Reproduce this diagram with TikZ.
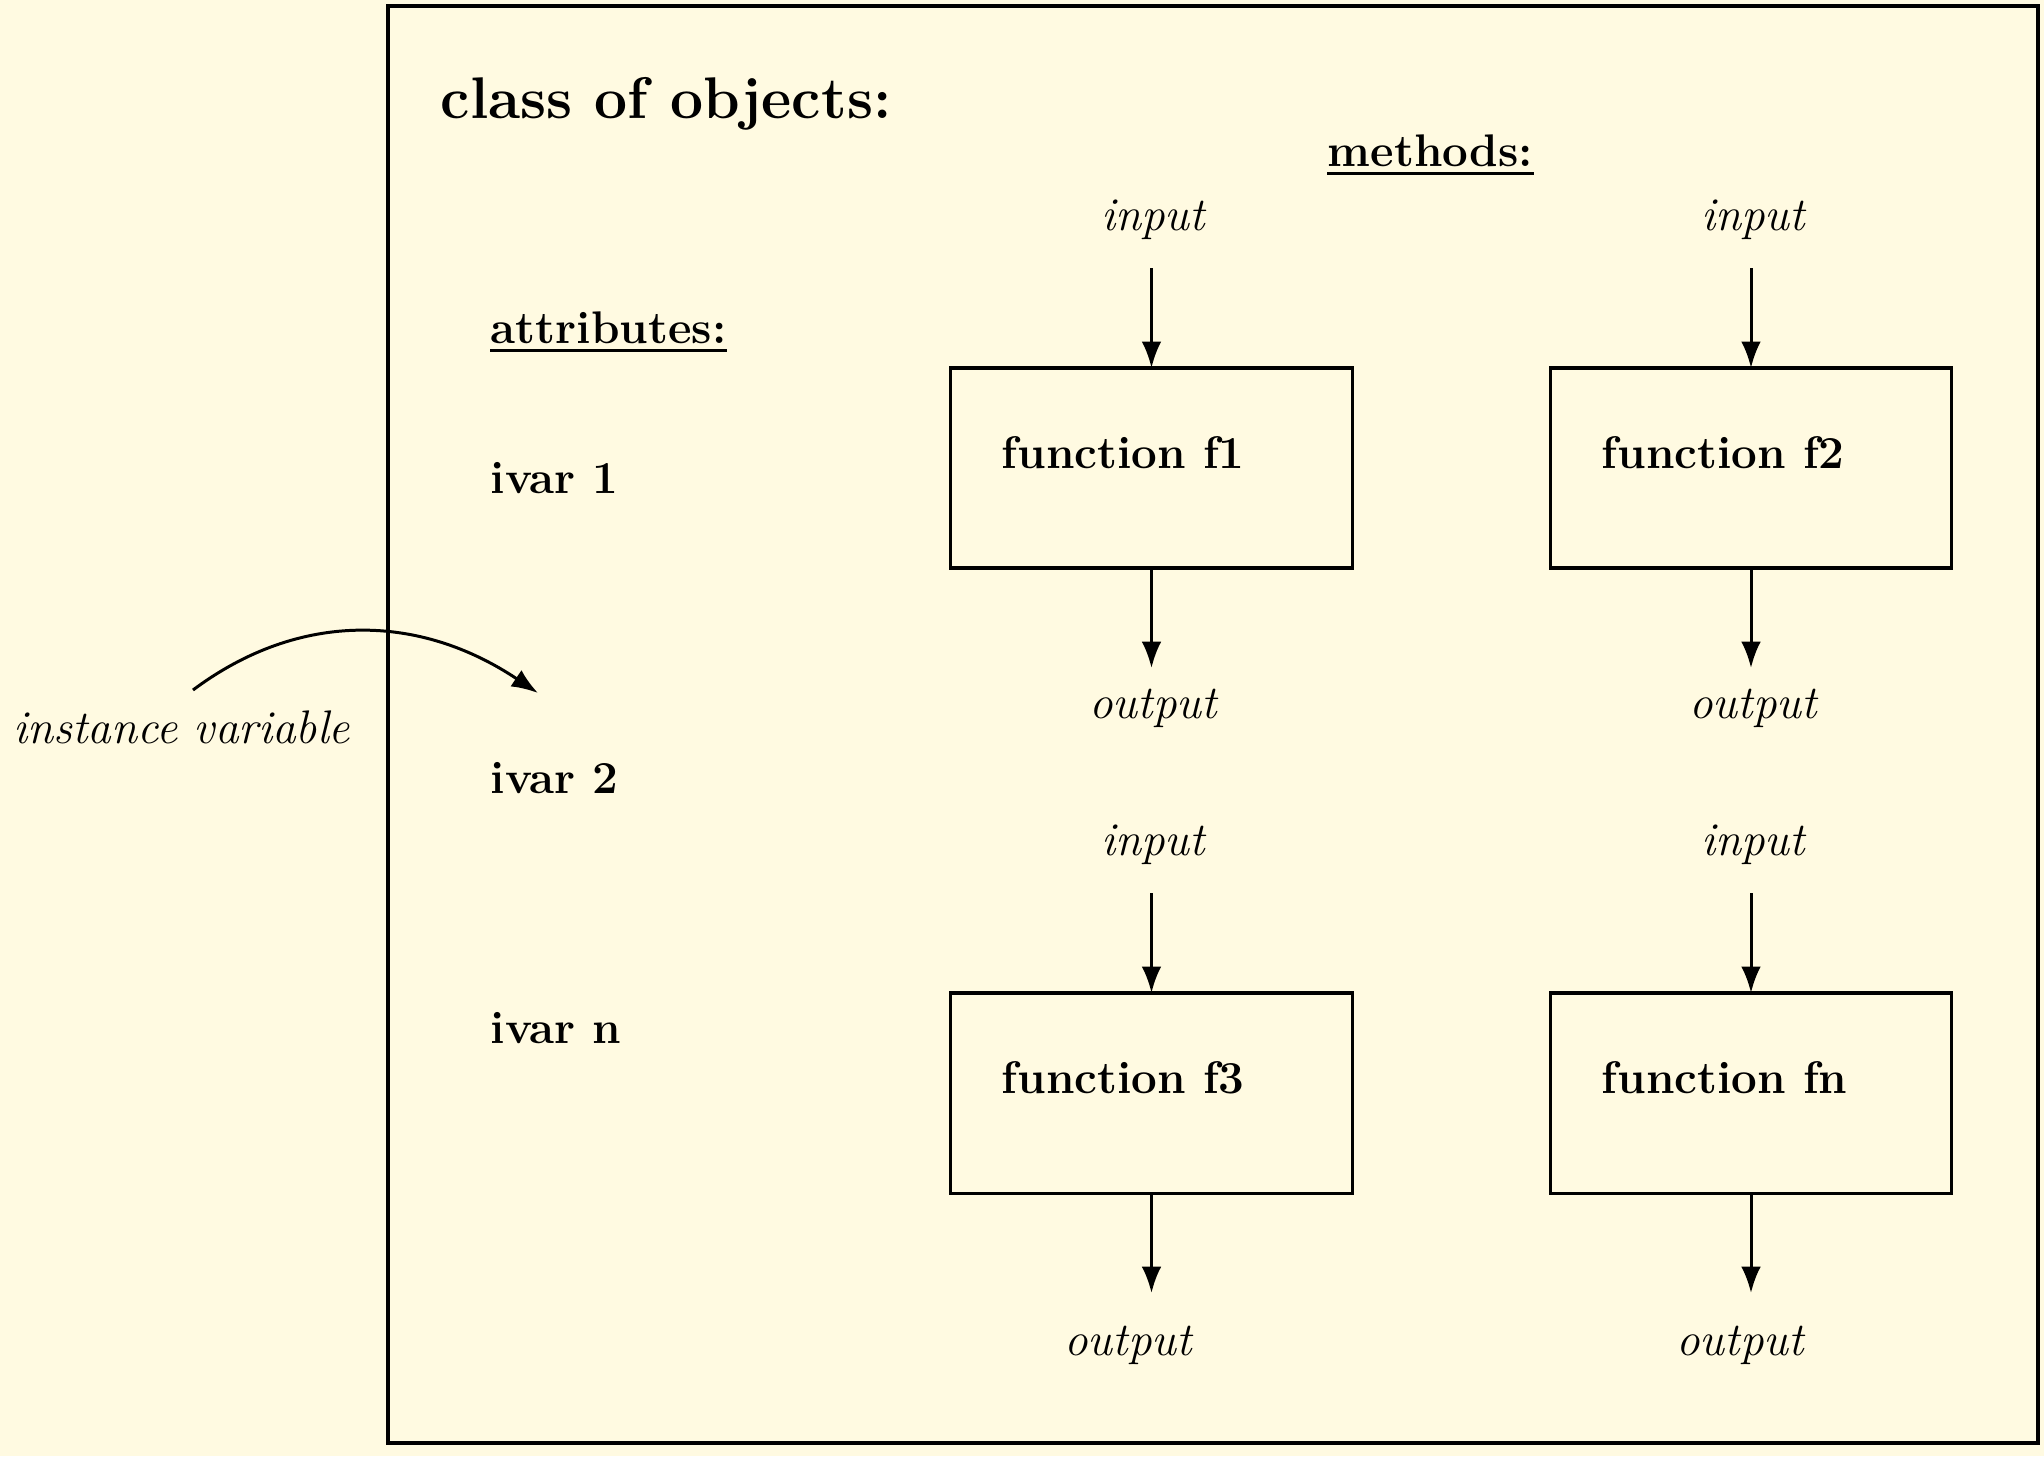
\documentclass[tikz,border=0pt]{standalone}
\usetikzlibrary{arrows.meta}
\definecolor{bgcream}{RGB}{255,250,225}
\begin{document}
\begin{tikzpicture}[x=0.01cm,y=-0.01cm,
  title/.style={anchor=base west,inner sep=0pt,font=\fontsize{16.7}{20}\selectfont\bfseries},
  bold/.style={anchor=base west,inner sep=0pt,font=\fontsize{13}{15}\selectfont\bfseries},
  ital/.style={anchor=base,inner sep=0pt,font=\fontsize{13.4}{16}\selectfont\itshape},
  fbox/.style={draw,line width=0.9pt,minimum width=4.01cm,minimum height=2cm,inner sep=0pt,outer sep=0pt},
  flow/.style={line width=0.85pt,-{Latex[length=7.5pt,width=5.6pt]}},
  uline/.style={line width=0.8pt}]
\fill[bgcream] (0,0) rectangle (2044,1456);
\useasboundingbox (0,0) rectangle (2044,1456);
\draw[line width=1pt] (388,6) rectangle (2038,1443);
% texts
\node[title] (ttl) at (440,118) {class of objects:};
\node[bold] (meth) at (1327,166) {methods:};
\draw[uline] ([yshift=-2.2pt]meth.base west) -- ([yshift=-2.2pt]meth.base east);
\node[bold] (attr) at (490,343) {attributes:};
\draw[uline] ([yshift=-2.2pt]attr.base west) -- ([yshift=-2.2pt]attr.base east);
\node[bold] (iv1) at (490,493) {ivar 1};
\node[bold] (iv2) at (490,793) {ivar 2};
\node[bold] (ivn) at (490,1043) {ivar n};
% boxes
\node[fbox] (f1) at (1151.5,468) {};
\node[fbox] (f2) at (1751,468) {};
\node[fbox] (f3) at (1151.5,1093) {};
\node[fbox] (fn) at (1751,1093) {};
\node[bold] (f1t) at (1001,468) {function f1};
\node[bold] (f2t) at (1601,468) {function f2};
\node[bold] (f3t) at (1001,1093) {function f3};
\node[bold] (fnt) at (1601,1093) {function fn};
% input / output labels
\node[ital] (in1) at (1153,230) {input};
\node[ital] (in2) at (1753,230) {input};
\node[ital] (in3) at (1153,855) {input};
\node[ital] (in4) at (1753,855) {input};
\node[ital] (out1) at (1153,718) {output};
\node[ital] (out2) at (1753,718) {output};
\node[ital] (out3) at (1128,1355) {output};
\node[ital] (out4) at (1740,1355) {output};
% arrow ends
\coordinate (a1) at (1151.5,268);
\coordinate (a2) at (1751,268);
\coordinate (a3) at (1151.5,893);
\coordinate (a4) at (1751,893);
\coordinate (b1) at (1151.5,668);
\coordinate (b2) at (1751,668);
\coordinate (b3) at (1151.5,1293);
\coordinate (b4) at (1751,1293);
\draw[flow] (a1) -- (f1.north);
\draw[flow] (a2) -- (f2.north);
\draw[flow] (a3) -- (f3.north);
\draw[flow] (a4) -- (fn.north);
\draw[flow] (f1.south) -- (b1);
\draw[flow] (f2.south) -- (b2);
\draw[flow] (f3.south) -- (b3);
\draw[flow] (fn.south) -- (b4);
% instance variable
\node[anchor=base west,inner sep=0pt,font=\fontsize{13.4}{16}\selectfont\itshape] (inst) at (13,743) {instance variable};
\coordinate (cs) at (193,690);
\coordinate (ce) at (538,693);
\draw[flow] (cs) .. controls (300,610) and (420,614) .. (ce);
\end{tikzpicture}
\end{document}
